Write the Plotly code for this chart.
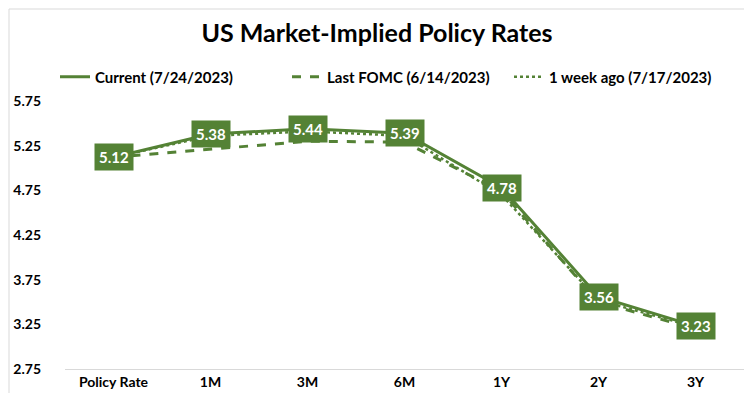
import plotly.graph_objects as go

categories = ["Policy Rate", "1M", "3M", "6M", "1Y", "2Y", "3Y"]
current = [5.12, 5.38, 5.44, 5.39, 4.78, 3.56, 3.23]
last_fomc = [5.12, 5.21, 5.30, 5.29, 4.74, 3.50, 3.20]
week_ago = [5.12, 5.36, 5.41, 5.36, 4.70, 3.52, 3.22]
y_ticks = [2.75, 3.25, 3.75, 4.25, 4.75, 5.25, 5.75]
series_names = ["Current (7/24/2023)", "Last FOMC (6/14/2023)", "1 week ago (7/17/2023)"]

GREEN = "#548235"
FONT = "Lato"

W, H = 752, 393
ML, MR, MT, MB = 57, 16, 93, 32

fig = go.Figure()
fig.add_trace(go.Scatter(x=categories, y=current, mode="lines", name=f"<b>{series_names[0]}</b>",
                         line=dict(color=GREEN, width=3), legend="legend"))
fig.add_trace(go.Scatter(x=categories, y=last_fomc, mode="lines", name=f"<b>{series_names[1]}</b>",
                         line=dict(color=GREEN, width=3, dash="dash"), legend="legend2"))
fig.add_trace(go.Scatter(x=categories, y=week_ago, mode="lines", name=f"<b>{series_names[2]}</b>",
                         line=dict(color=GREEN, width=2.5, dash="dot"), legend="legend3"))

for c, v in zip(categories, current):
    fig.add_annotation(x=c, y=v, text=f"<b>{v:.2f}</b>", showarrow=False,
                       bgcolor=GREEN, borderpad=4,
                       font=dict(family=FONT, size=15, color="white"))

pw = W - ML - MR
ph = H - MT - MB
fig.add_shape(type="rect", xref="paper", yref="paper",
              x0=-(ML - 1) / pw, x1=1 + (MR - 1.5) / pw,
              y0=-(MB - 1) / ph, y1=1 + (MT - 1) / ph,
              line=dict(color="#d9d9d9", width=1), layer="below")

def leg(px):
    return dict(orientation="h", x=(px - ML) / pw, xanchor="left", xref="paper",
                y=1 + (MT - 69) / ph, yanchor="middle", yref="paper",
                font=dict(size=15, family=FONT, color="black"),
                bgcolor="rgba(0,0,0,0)", borderwidth=0)

fig.update_layout(
    width=W, height=H,
    margin=dict(l=ML, r=MR, t=MT, b=MB, autoexpand=False),
    paper_bgcolor="white", plot_bgcolor="white",
    font=dict(family=FONT, color="black"),
    title=dict(text="<b>US Market-Implied Policy Rates</b>", x=0.5 - 7 / W, xref="container",
               xanchor="center", y=1 - 25 / H, yanchor="middle",
               font=dict(size=25, family=FONT, color="black")),
    showlegend=True,
    legend=leg(47),
    legend2=leg(279),
    legend3=leg(501),
    xaxis=dict(type="category", showgrid=False, showline=True, linecolor="#d9d9d9",
               linewidth=1, ticks="", tickfont=dict(size=14, family=FONT, color="black"),
               tickprefix="<b>", ticksuffix="</b>", range=[-0.5, 6.5], fixedrange=True),
    yaxis=dict(range=[2.75, 5.75], tickvals=y_ticks, ticktext=[f"<b>{t:.2f}</b>" for t in y_ticks],
               showgrid=False, zeroline=False, showline=False, ticks="",
               tickfont=dict(size=14, family=FONT, color="black"), ticklabelstandoff=23),
)

fig.write_html("out.html")
